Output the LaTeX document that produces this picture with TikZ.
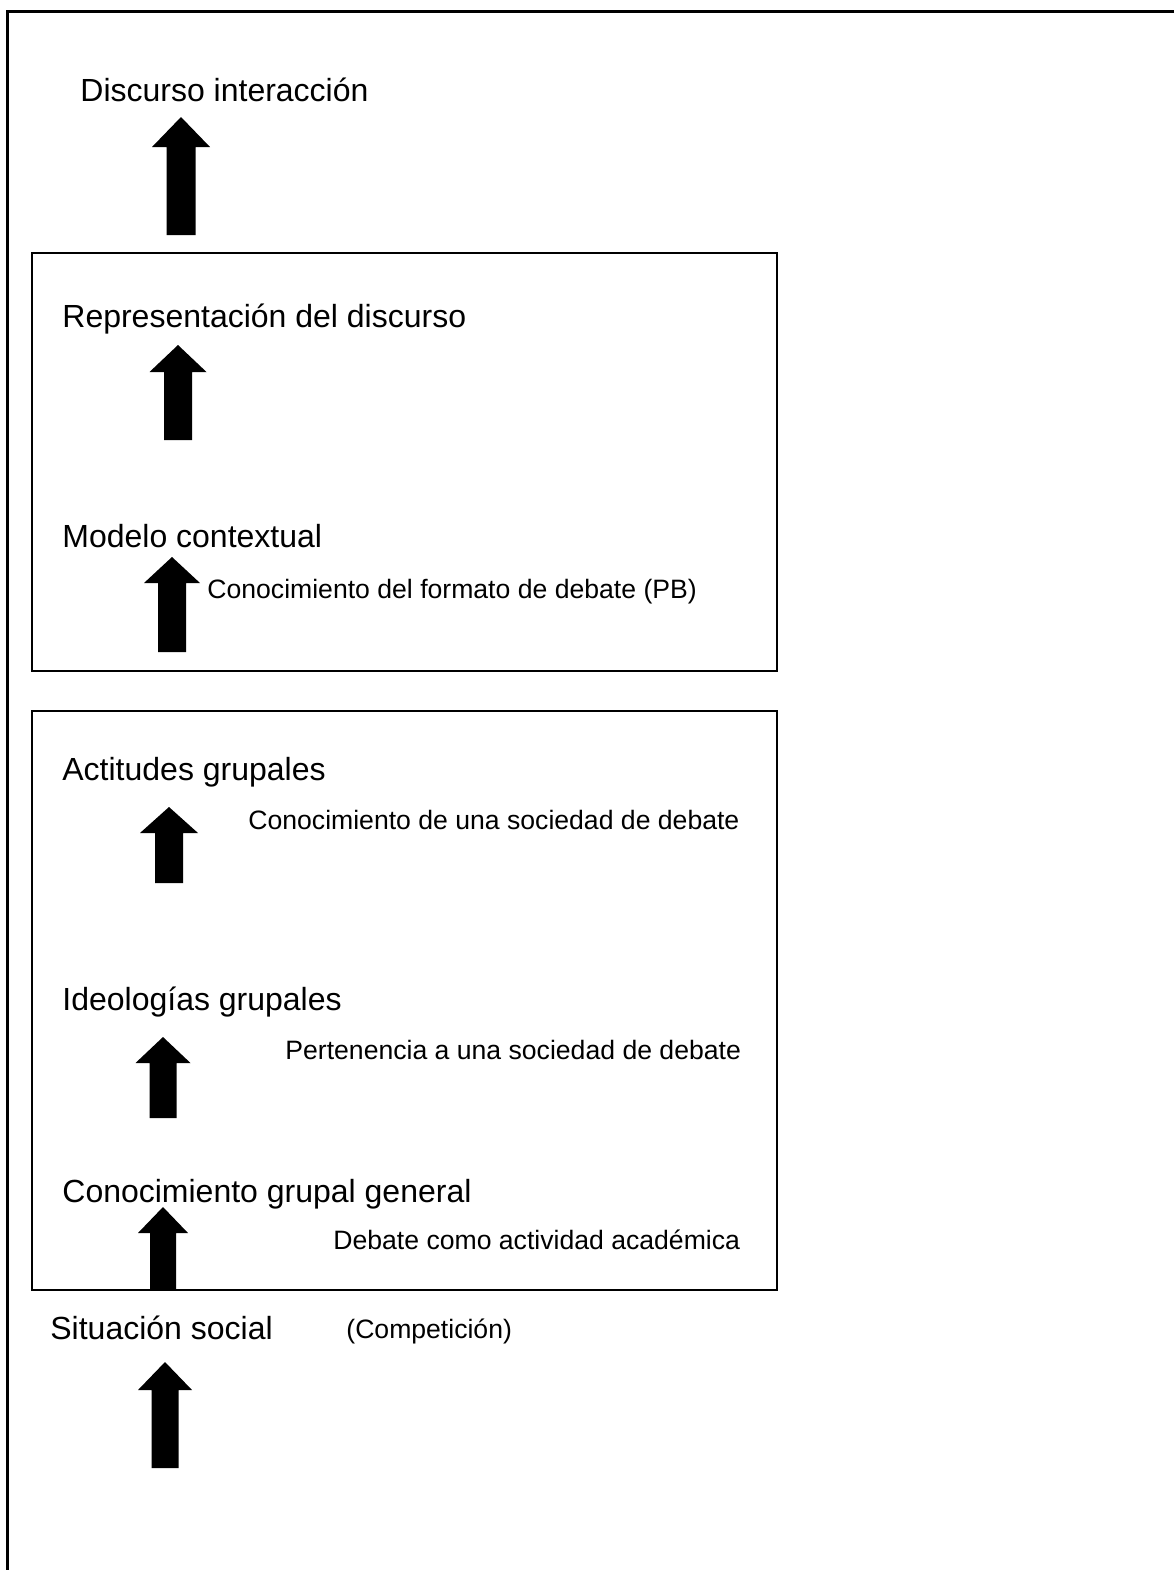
\documentclass[tikz,border=0pt]{standalone}
\usepackage{fontspec}
\setmainfont{Liberation Sans}
\newcommand{\blockarrow}[6]{%
  \fill[black] ({#1-#5},#3) -- (#1,#2) -- ({#1+#5},#3) -- ({#1+#6},#3) -- ({#1+#6},#4) -- ({#1-#6},#4) -- ({#1-#6},#3) -- cycle;}
\begin{document}
\begin{tikzpicture}[x=0.5pt,y=-0.5pt,
  big/.style={anchor=base west,inner sep=0pt,font=\fontsize{16}{19}\selectfont},
  small/.style={anchor=base west,inner sep=0pt,font=\fontsize{13.3}{16}\selectfont},
  frame/.style={line width=1.5pt},
  boxline/.style={line width=1.2pt}]
\useasboundingbox (0,0) rectangle (1174,1570);
% outer frame (top and left only)
\draw[frame] (1174,11) -- (7,11) -- (7,1570);
% boxes
\draw[boxline] (32,253) rectangle (777,671);
\draw[boxline] (32,711) rectangle (777,1290);
% texts
\node[big] (di) at (80,101) {Discurso interacción};
\node[big] (rd) at (62,327) {Representación del discurso};
\node[big] (mc) at (62,547) {Modelo contextual};
\node[small] (cf) at (207,598) {Conocimiento del formato de debate (PB)};
\node[big] (ag) at (62,780) {Actitudes grupales};
\node[small] (cs) at (248,829) {Conocimiento de una sociedad de debate};
\node[big] (ig) at (62,1010) {Ideologías grupales};
\node[small] (ps) at (285,1059) {Pertenencia a una sociedad de debate};
\node[big] (cg) at (62,1202) {Conocimiento grupal general};
\node[small] (da) at (333,1249) {Debate como actividad académica};
\node[big] (ss) at (50,1339) {Situación social};
\node[small] (co) at (346,1338) {(Competición)};
% block arrows
\blockarrow{181}{117}{147}{235}{29}{14.5}
\blockarrow{178}{345}{372}{440}{28.5}{14}
\blockarrow{172}{557}{583}{652}{28}{14}
\blockarrow{169}{807}{833}{883}{29}{14}
\blockarrow{163}{1037}{1063}{1118}{27.5}{13.5}
\blockarrow{163}{1207}{1233}{1290}{25}{13}
\blockarrow{165}{1362}{1390}{1468}{27}{13.5}
\end{tikzpicture}
\end{document}
